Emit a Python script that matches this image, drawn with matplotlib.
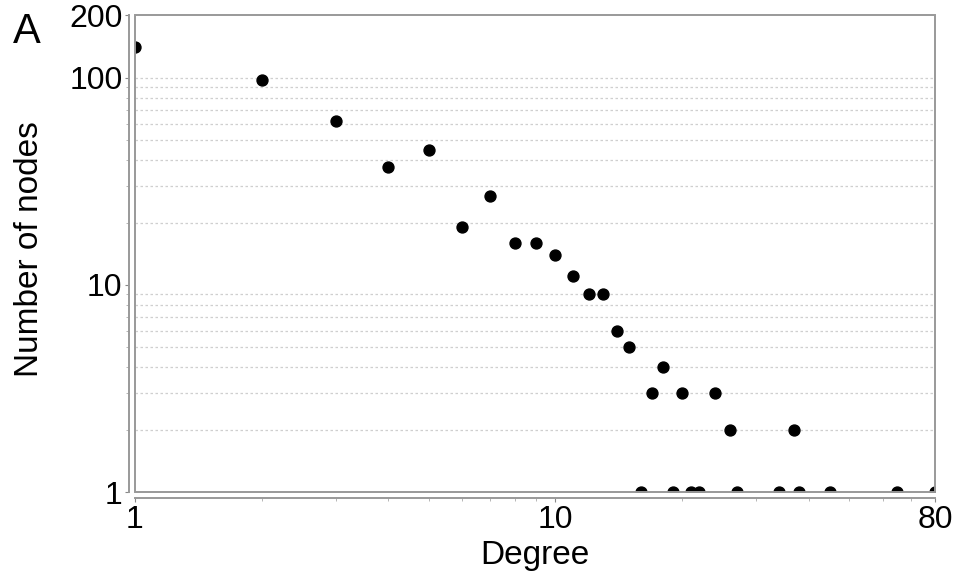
import matplotlib

matplotlib.use("Agg")
import matplotlib.pyplot as plt
from matplotlib.patches import Rectangle
from matplotlib.ticker import FixedLocator, FixedFormatter, NullFormatter

plt.rcParams["font.family"] = ["Liberation Sans", "DejaVu Sans"]

degree = [1, 2, 3, 4, 5, 6, 7, 8, 9, 10, 11, 12, 13, 14, 15, 16, 17, 18, 19, 20,
          21, 22, 24, 26, 27, 34, 37, 38, 45, 65, 80]
nodes = [140, 97, 62, 37, 45, 19, 27, 16, 16, 14, 11, 9, 9, 6, 5, 1, 3, 4, 1, 3,
         1, 1, 3, 2, 1, 1, 2, 1, 1, 1, 1]

x_ticks = [1, 10, 80]
y_ticks = [1, 10, 100, 200]
y_grid = [v * m for m in (1, 10) for v in range(2, 10)] + [100]

fig = plt.figure(figsize=(9.69, 5.86), dpi=100)
ax = fig.add_axes([0.1393, 0.160, 0.8257, 0.814])

ax.scatter(degree, nodes, s=62, color="black", zorder=3, clip_on=True)

ax.set_xscale("log")
ax.set_yscale("log")
ax.set_xlim(1, 80)
ax.set_ylim(1, 200)

# light dotted grid at every minor y step
for g in y_grid:
    ax.axhline(g, color="#cfcfcf", lw=0.9, ls=(0, (2, 2)), zorder=1)

ax.xaxis.set_major_locator(FixedLocator(x_ticks))
ax.xaxis.set_major_formatter(FixedFormatter([str(v) for v in x_ticks]))
ax.xaxis.set_minor_locator(FixedLocator(list(range(2, 10)) + list(range(20, 80, 10))))
ax.xaxis.set_minor_formatter(NullFormatter())
ax.yaxis.set_major_locator(FixedLocator(y_ticks))
ax.yaxis.set_major_formatter(FixedFormatter([str(v) for v in y_ticks]))
ax.yaxis.set_minor_locator(FixedLocator(y_grid))
ax.yaxis.set_minor_formatter(NullFormatter())

ax.tick_params(which="major", length=3, width=0.8, color="#888888", labelsize=23, pad=2)
ax.tick_params(which="minor", length=2, width=0.6, color="#aaaaaa")

for side in ("top", "right"):
    ax.spines[side].set_visible(False)
for side in ("left", "bottom"):
    ax.spines[side].set_position(("outward", 4))
    ax.spines[side].set_color("#999999")
    ax.spines[side].set_linewidth(1.4)

ax.add_patch(Rectangle((0, 0), 1, 1, transform=ax.transAxes, fill=False,
                       edgecolor="#999999", lw=1.4, clip_on=False, zorder=4))

ax.set_xlabel("Degree", fontsize=24, labelpad=4)
ax.set_ylabel("Number of nodes", fontsize=24)
ax.yaxis.set_label_coords(-0.113, 0.51)

fig.text(0.013, 0.927, "A", fontsize=30)

fig.savefig("out.png", dpi=100)
